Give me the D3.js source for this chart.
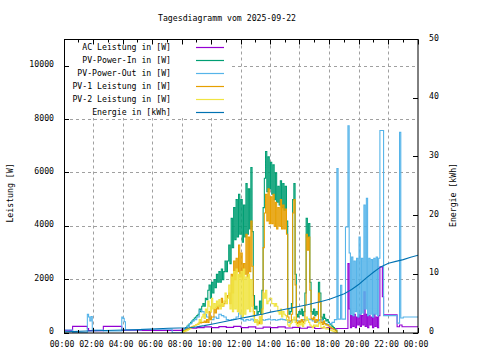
<!DOCTYPE html>
<html><head><meta charset="utf-8">
<script src="https://cdn.jsdelivr.net/npm/d3@7"></script>
<style>
body{margin:0;background:#fff}
svg{display:block}
text{font-family:"DejaVu Sans Mono",monospace;font-size:8.2px;fill:#000}
</style>
</head><body><svg id="c" width="480" height="360"></svg>
<script>
// ---------- data ----------
const title = "Tagesdiagramm vom 2025-09-22";
const xTickHours = [0,2,4,6,8,10,12,14,16,18,20,22,24];
const xTickLabels = ["00:00","02:00","04:00","06:00","08:00","10:00","12:00","14:00","16:00","18:00","20:00","22:00","00:00"];
const yTicks = [0,2000,4000,6000,8000,10000];
const y2Ticks = [0,10,20,30,40,50];
const seriesNames = ["AC Leistung in [W]","PV-Power-In in [W]","PV-Power-Out in [W]","PV-1 Leistung in [W]","PV-2 Leistung in [W]","Energie in [kWh]"];
const colors = ["#9400d3","#009e73","#56b4e9","#e69f00","#f0e442","#0072b2"];

// PV strings, 5-minute samples 08:00 .. 18:30
const dayStart = "08:00";
const pvIn = [
 50,100,150,200,250,300,350,400,450,500,560,600,
 650,700,900,800,1000,1100,1000,1300,1250,1600,1800,1300,
 1900,1500,2000,1700,2200,1900,2300,1900,2400,2000,2300,2700,
 2300,2700,3300,2600,4300,3200,4700,3500,5000,3600,5200,3700,
 5000,3400,4800,3600,5600,3700,5400,3900,6200,3800,1400,900,
 1000,700,800,1200,700,1600,4700,5800,6800,5300,6600,5400,
 6400,5200,6300,5000,6000,4900,5500,4800,5700,4700,5600,4600,
 5500,4200,900,700,800,1100,5000,5600,2200,700,600,800,
 700,900,650,800,1500,4300,3600,4100,1900,800,700,900,
 650,800,700,1900,1500,600,500,700,550,450,500,400,
 350,300,250,200,150,100,0];
const pv1 = [
 30,60,90,120,150,170,190,210,230,250,280,300,
 320,340,400,380,400,400,450,400,500,400,800,500,
 600,600,900,750,1000,900,1050,1000,1300,1000,1100,1200,
 1200,1400,1500,1100,2200,1500,2700,2000,2800,2300,3300,2100,
 3000,2000,2600,2200,3700,2100,3600,2300,4200,2500,800,500,
 500,400,350,600,350,900,3200,4500,5200,4200,5400,4100,
 5100,4100,5200,4000,4900,3900,4700,4000,5000,3900,4800,3900,
 4650,3700,600,450,450,700,4500,5000,1800,400,350,450,
 400,500,400,450,1050,3700,3100,3600,1600,550,500,600,
 400,500,450,1500,1150,400,320,450,350,300,320,260,
 230,200,170,140,110,80,0];
const pv2 = [
 20,40,60,80,100,130,160,190,220,250,280,300,
 330,360,500,420,600,700,550,900,750,1200,1000,800,
 1300,900,1100,950,1200,1000,1250,900,1100,1000,1200,1500,
 1100,1300,1800,900,2100,800,2300,900,2400,800,2200,700,
 2300,600,2400,700,2100,900,2200,800,2000,1000,600,400,
 500,300,450,600,350,700,1500,1300,1600,1100,1200,1300,
 1300,1100,1100,1000,1100,1000,800,700,900,600,800,700,
 650,500,300,250,350,400,500,600,400,300,250,350,
 300,400,250,350,450,600,500,400,300,250,200,300,
 250,300,250,400,350,200,180,250,200,150,180,140,
 120,100,80,60,40,20,0];

// PV-Power-Out (irregular samples)
const pvOutT = ["00:00","00:35","01:35","01:40","01:45","01:50","01:55","02:40","03:55","04:00","04:05","04:10","05:15","07:20",
 "08:00","08:10","08:20","08:30","08:40","08:50","09:00","09:10","09:20","09:30","09:40","09:50",
 "10:00","10:10","10:20","10:30","10:40","10:50","11:00","11:10","11:20","11:30","11:40","11:50",
 "12:00","12:10","12:20","12:30","12:40","12:50","13:00","13:10","13:20","13:30","13:40","13:50",
 "14:00","14:10","14:20","14:30","14:40","14:50","15:00","15:10","15:20","15:30","15:40","15:50",
 "16:00","16:10","16:20","16:30","16:40","16:50","17:00","17:10","17:20","17:30","17:40","17:50",
 "18:00","18:10","18:20","18:30","18:35","18:45","18:50","19:05","19:15","19:20",
 "19:25","19:30","19:35","19:40","19:45","19:50","19:55","20:00","20:05","20:10","20:15","20:20",
 "20:25","20:30","20:35","20:40","20:45","20:50","20:55","21:00","21:05","21:10","21:15","21:20",
 "21:25","21:40","22:35","22:45","22:50","23:00","24:00"];
const pvOutV = [110,20,700,600,450,620,110,75,600,550,420,110,140,10,
 50,150,250,350,450,500,600,850,800,700,600,550,
 500,600,550,700,650,600,500,480,500,520,600,750,
 500,450,500,480,520,450,400,450,500,480,500,520,
 490,500,480,500,520,500,480,400,450,500,480,450,
 450,500,480,520,500,450,400,450,500,400,350,300,
 350,400,500,6160,520,1790,520,3970,7770,3000,
 700,2850,650,2700,800,2800,600,3600,700,2800,750,4800,
 900,5050,650,2800,700,2750,600,2800,700,2850,650,2800,
 7590,650,370,7520,560,600,600];

// AC Leistung (irregular samples)
const acT = ["00:00","00:35","01:35","01:40","02:40","03:55","08:00","08:30","09:00","09:30","10:00","10:30",
 "11:00","11:30","12:00","12:30","13:00","13:30","14:00","14:30","15:00","15:30","16:00","16:30",
 "17:00","17:30","18:00","18:30","19:15","19:20",
 "19:25","19:30","19:35","19:40","19:45","19:50","19:55","20:00","20:05","20:10","20:15","20:20",
 "20:25","20:30","20:35","20:40","20:45","20:50","20:55","21:00","21:05","21:10","21:15","21:20",
 "21:25","21:35","21:40","22:35","22:45","22:55","24:00"];
const acV = [100,250,170,90,250,100,150,180,200,230,200,240,
 210,250,200,230,180,220,200,230,190,210,180,220,
 170,200,160,170,2600,900,
 200,650,250,700,200,600,300,700,250,650,300,1540,
 250,700,200,650,300,600,200,700,250,600,200,650,
 2480,1360,680,235,300,235,235];

// Energie in kWh (right axis)
const enT = ["00:00","01:35","05:15","07:05","08:30","09:00","09:30","10:00","10:30","11:00","11:30","12:00",
 "12:30","13:00","13:30","14:00","14:30","15:00","15:30","16:00","16:30","17:00","17:30","18:00",
 "18:30","19:00","19:30","20:00","20:30","21:00","21:30","22:00","22:30","23:00","23:30","24:00"];
const enV = [0.2,0.35,0.6,0.8,0.9,1.05,1.25,1.5,1.75,2.0,2.25,2.5,
 2.75,3.0,3.25,3.55,3.8,4.05,4.3,4.55,4.8,5.1,5.4,5.75,
 6.2,6.7,7.4,8.3,9.4,10.4,11.3,11.9,12.2,12.5,12.9,13.25];

// ---------- drawing ----------
const hrs = s => { const [h,m] = s.split(":").map(Number); return h + m/60; };
const d0 = hrs(dayStart);
const dayT = pvIn.map((_, i) => d0 + i * 5 / 60);

const L = 64, R = 418, T = 39.5, B = 333;
const svg = d3.select("#c");
const x = d3.scaleLinear().domain([0,24]).range([L,R]);
const y = d3.scaleLinear().domain([0,11000]).range([B,T]);
const y2 = d3.scaleLinear().domain([0,50]).range([B,T]);
const px = v => Math.round(v - 0.5) + 0.5;

// grid
const grid = svg.append("g").attr("stroke","#a0a0a0").attr("stroke-width",1).attr("stroke-dasharray","3,3");
xTickHours.filter(h => h > 0 && h < 24).forEach(h => {
  grid.append("line").attr("x1",px(x(h))).attr("x2",px(x(h))).attr("y1",T).attr("y2",B);
});
yTicks.filter(v => v > 0).forEach(v => {
  grid.append("line").attr("x1",L).attr("x2",R).attr("y1",px(y(v))).attr("y2",px(y(v)));
});

// series
svg.append("clipPath").attr("id","clip").append("rect").attr("x",L).attr("y",T).attr("width",R-L).attr("height",B-T);
const plot = svg.append("g").attr("clip-path","url(#clip)");
const stepLine = (ys) => d3.line().curve(d3.curveStepAfter).x(d => x(d[0])).y(d => ys(d[1]));
const zip = (t, v) => t.map((tt, i) => [tt, v[i]]);

const series = [
  {data: zip(acT.map(hrs), acV), scale: y, step: true},
  {data: zip(dayT, pvIn), scale: y, step: true},
  {data: zip(pvOutT.map(hrs), pvOutV), scale: y, step: true},
  {data: zip(dayT, pv1), scale: y, step: true},
  {data: zip(dayT, pv2), scale: y, step: true},
  {data: zip(enT.map(hrs), enV), scale: y2, step: false}
];
series.forEach((s, i) => {
  const gen = s.step ? stepLine(s.scale) : d3.line().x(d => x(d[0])).y(d => s.scale(d[1]));
  plot.append("path").attr("d", gen(s.data)).attr("fill","none")
    .attr("stroke", colors[i]).attr("stroke-width", 1.1).attr("stroke-linejoin","miter");
});

// legend (opaque)
const lg = svg.append("g");
lg.append("rect").attr("x",L+0.5).attr("y",T+0.5).attr("width",165).attr("height",78).attr("fill","#fff");
seriesNames.forEach((n, i) => {
  const cy = 47.3 + i * 13;
  lg.append("text").attr("x",171).attr("y",cy+3).attr("text-anchor","end").text(n);
  lg.append("line").attr("x1",196).attr("x2",224).attr("y1",px(cy)).attr("y2",px(cy))
    .attr("stroke",colors[i]).attr("stroke-width",1.2);
});

// border
svg.append("rect").attr("x",L+0.5).attr("y",T).attr("width",R-L-0.5).attr("height",B-T)
  .attr("fill","none").attr("stroke","#000").attr("stroke-width",1);

// ticks
const tk = svg.append("g").attr("stroke","#000").attr("stroke-width",1);
for (let h = 0; h <= 24; h++) {
  const len = h % 2 === 0 ? 5 : 3;
  const xx = px(x(h));
  tk.append("line").attr("x1",xx).attr("x2",xx).attr("y1",B).attr("y2",B-len);
  tk.append("line").attr("x1",xx).attr("x2",xx).attr("y1",T).attr("y2",T+len);
}
yTicks.forEach(v => {
  const yy = px(y(v));
  tk.append("line").attr("x1",L).attr("x2",L+5).attr("y1",yy).attr("y2",yy);
});
y2Ticks.forEach(v => {
  const yy = px(y2(v));
  tk.append("line").attr("x1",R).attr("x2",R-5).attr("y1",yy).attr("y2",yy);
});

// tick labels
xTickHours.forEach((h, i) => {
  svg.append("text").attr("x",x(h)-2).attr("y",347).attr("text-anchor","middle").text(xTickLabels[i]);
});
yTicks.forEach(v => {
  svg.append("text").attr("x",54).attr("y",y(v)+1).attr("text-anchor","end").text(v);
});
y2Ticks.forEach(v => {
  svg.append("text").attr("x",429).attr("y",y2(v)+1).attr("text-anchor","start").text(v);
});

// titles
svg.append("text").attr("x",227).attr("y",21).attr("text-anchor","middle").text(title);
svg.append("text").attr("transform","translate(12.5,193) rotate(-90)").attr("text-anchor","middle").text("Leistung [W]");
svg.append("text").attr("transform","translate(456,195) rotate(-90)").attr("text-anchor","middle").text("Energie [kWh]");
</script></body></html>
